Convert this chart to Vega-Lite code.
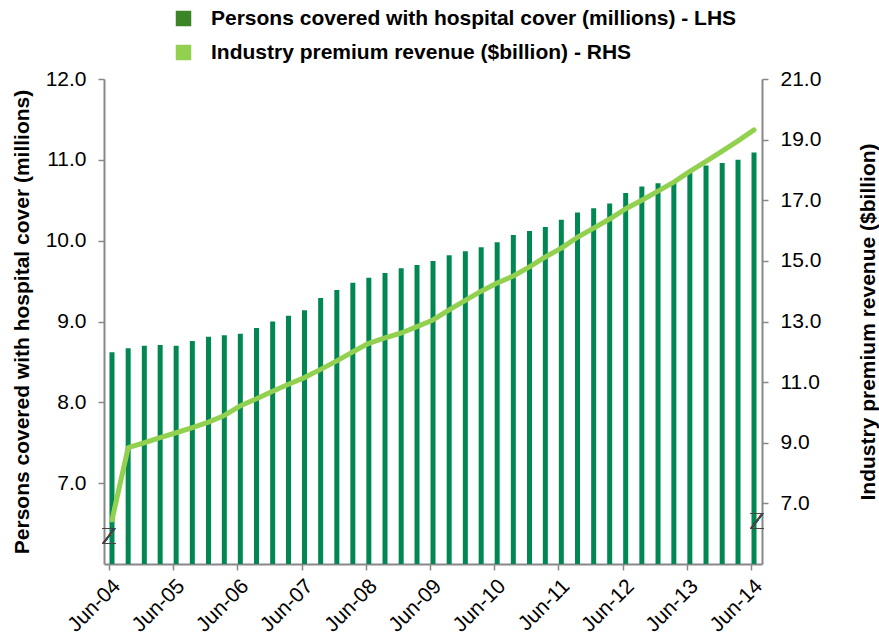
{
  "$schema": "https://vega.github.io/schema/vega-lite/v6.json",
  "autosize": {"type": "none"},
  "padding": {"left": 104, "top": 79, "right": 117, "bottom": 73},
  "width": 658,
  "height": 485,
  "background": "#ffffff",
  "config": {
    "view": {"stroke": null},
    "font": "Liberation Sans"
  },
  "datasets": {
    "quarterly": [
      {"quarter": "2004-06-30", "persons": 8.62, "revenue": 6.45},
      {"quarter": "2004-09-30", "persons": 8.67, "revenue": 8.84},
      {"quarter": "2004-12-31", "persons": 8.70, "revenue": 9.00},
      {"quarter": "2005-03-31", "persons": 8.71, "revenue": 9.17},
      {"quarter": "2005-06-30", "persons": 8.70, "revenue": 9.33},
      {"quarter": "2005-09-30", "persons": 8.76, "revenue": 9.50},
      {"quarter": "2005-12-31", "persons": 8.81, "revenue": 9.68},
      {"quarter": "2006-03-31", "persons": 8.83, "revenue": 9.90},
      {"quarter": "2006-06-30", "persons": 8.85, "revenue": 10.22},
      {"quarter": "2006-09-30", "persons": 8.92, "revenue": 10.45},
      {"quarter": "2006-12-31", "persons": 9.00, "revenue": 10.70},
      {"quarter": "2007-03-31", "persons": 9.07, "revenue": 10.93},
      {"quarter": "2007-06-30", "persons": 9.14, "revenue": 11.15},
      {"quarter": "2007-09-30", "persons": 9.29, "revenue": 11.42},
      {"quarter": "2007-12-31", "persons": 9.39, "revenue": 11.70},
      {"quarter": "2008-03-31", "persons": 9.48, "revenue": 12.00},
      {"quarter": "2008-06-30", "persons": 9.54, "revenue": 12.28},
      {"quarter": "2008-09-30", "persons": 9.60, "revenue": 12.46},
      {"quarter": "2008-12-31", "persons": 9.66, "revenue": 12.62},
      {"quarter": "2009-03-31", "persons": 9.70, "revenue": 12.83},
      {"quarter": "2009-06-30", "persons": 9.75, "revenue": 13.05},
      {"quarter": "2009-09-30", "persons": 9.82, "revenue": 13.38},
      {"quarter": "2009-12-31", "persons": 9.87, "revenue": 13.70},
      {"quarter": "2010-03-31", "persons": 9.92, "revenue": 14.00},
      {"quarter": "2010-06-30", "persons": 9.98, "revenue": 14.27},
      {"quarter": "2010-09-30", "persons": 10.07, "revenue": 14.50},
      {"quarter": "2010-12-31", "persons": 10.12, "revenue": 14.80},
      {"quarter": "2011-03-31", "persons": 10.17, "revenue": 15.13},
      {"quarter": "2011-06-30", "persons": 10.26, "revenue": 15.42},
      {"quarter": "2011-09-30", "persons": 10.35, "revenue": 15.78},
      {"quarter": "2011-12-31", "persons": 10.40, "revenue": 16.08},
      {"quarter": "2012-03-31", "persons": 10.46, "revenue": 16.38},
      {"quarter": "2012-06-30", "persons": 10.59, "revenue": 16.72},
      {"quarter": "2012-09-30", "persons": 10.67, "revenue": 17.00},
      {"quarter": "2012-12-31", "persons": 10.71, "revenue": 17.30},
      {"quarter": "2013-03-31", "persons": 10.73, "revenue": 17.60},
      {"quarter": "2013-06-30", "persons": 10.84, "revenue": 17.95},
      {"quarter": "2013-09-30", "persons": 10.93, "revenue": 18.28},
      {"quarter": "2013-12-31", "persons": 10.96, "revenue": 18.62},
      {"quarter": "2014-03-31", "persons": 11.00, "revenue": 18.96},
      {"quarter": "2014-06-30", "persons": 11.09, "revenue": 19.32}
    ],
    "series": [
      {"series": "Persons covered with hospital cover (millions) - LHS"},
      {"series": "Industry premium revenue ($billion) - RHS"}
    ]
  },
  "encoding": {
    "x": {
      "field": "quarter",
      "type": "temporal",
      "scale": {
        "type": "utc",
        "domain": [
          {"year": 2004, "month": 6, "date": 13, "utc": true},
          {"year": 2014, "month": 7, "date": 17, "utc": true}
        ]
      },
      "axis": {
        "title": null,
        "grid": false,
        "values": [
          {"year": 2004, "month": 6, "date": 13, "utc": true},
          {"year": 2005, "month": 6, "date": 13, "utc": true},
          {"year": 2006, "month": 6, "date": 13, "utc": true},
          {"year": 2007, "month": 6, "date": 13, "utc": true},
          {"year": 2008, "month": 6, "date": 13, "utc": true},
          {"year": 2009, "month": 6, "date": 13, "utc": true},
          {"year": 2010, "month": 6, "date": 13, "utc": true},
          {"year": 2011, "month": 6, "date": 13, "utc": true},
          {"year": 2012, "month": 6, "date": 13, "utc": true},
          {"year": 2013, "month": 6, "date": 13, "utc": true},
          {"year": 2014, "month": 6, "date": 13, "utc": true}
        ],
        "format": "%b-%y",
        "labelAngle": -45,
        "labelFont": "Liberation Sans",
        "labelFontSize": 21,
        "labelColor": "#000000",
        "labelPadding": 5,
        "labelOverlap": false,
        "labelFlush": false,
        "tickSize": 6,
        "tickColor": "#888888",
        "tickWidth": 1.5,
        "domainColor": "#888888",
        "domainWidth": 2
      }
    }
  },
  "layer": [
    {
      "data": {"name": "quarterly"},
      "layer": [
        {
          "mark": {"type": "bar", "width": 5, "color": "#008752"},
          "encoding": {
            "y": {
              "field": "persons",
              "type": "quantitative",
              "scale": {"domain": [6, 12], "zero": false, "nice": false},
              "axis": {
                "orient": "left",
                "values": [7, 8, 9, 10, 11, 12],
                "format": ".1f",
                "grid": false,
                "title": "Persons covered with hospital cover (millions)",
                "titleFont": "Liberation Sans",
                "titleFontSize": 21,
                "titleFontWeight": "bold",
                "titleColor": "#000000",
                "titleAngle": 270,
                "titleAlign": "center",
                "titleBaseline": "middle",
                "titleX": -82,
                "titleY": 242.5,
                "labelFont": "Liberation Sans",
                "labelFontSize": 21,
                "labelColor": "#000000",
                "labelPadding": 12,
                "tickSize": 6,
                "tickColor": "#888888",
                "tickWidth": 1.5,
                "domainColor": "#888888",
                "domainWidth": 2
              }
            },
            "y2": {"datum": 6}
          }
        },
        {
          "mark": {"type": "text", "text": "Z", "font": "DejaVu Sans", "fontSize": 21, "fontWeight": 200, "color": "#444444"},
          "encoding": {
            "x": {"datum": {"year": 2004, "month": 6, "date": 13, "utc": true}, "type": "temporal"},
            "y": {"datum": 6.32, "type": "quantitative"}
          }
        }
      ]
    },
    {
      "data": {"name": "quarterly"},
      "layer": [
        {
          "mark": {"type": "line", "color": "#92D050", "strokeWidth": 5, "strokeJoin": "round", "strokeCap": "round"},
          "encoding": {
            "y": {
              "field": "revenue",
              "type": "quantitative",
              "scale": {"domain": [5, 21], "zero": false, "nice": false},
              "axis": {
                "orient": "right",
                "values": [7, 9, 11, 13, 15, 17, 19, 21],
                "format": ".1f",
                "grid": false,
                "title": "Industry premium revenue ($billion)",
                "titleFont": "Liberation Sans",
                "titleFontSize": 21,
                "titleFontWeight": "bold",
                "titleColor": "#000000",
                "titleAngle": 270,
                "titleAlign": "center",
                "titleBaseline": "middle",
                "titleX": 106,
                "titleY": 242.5,
                "labelFont": "Liberation Sans",
                "labelFontSize": 21,
                "labelColor": "#000000",
                "labelPadding": 12,
                "tickSize": 6,
                "tickColor": "#888888",
                "tickWidth": 1.5,
                "domainColor": "#888888",
                "domainWidth": 2
              }
            }
          }
        },
        {
          "mark": {"type": "text", "text": "Z", "font": "DejaVu Sans", "fontSize": 21, "fontWeight": 200, "color": "#444444"},
          "encoding": {
            "x": {"datum": {"year": 2014, "month": 7, "date": 17, "utc": true}, "type": "temporal"},
            "y": {"datum": 6.35, "type": "quantitative"}
          }
        }
      ]
    },
    {
      "data": {"name": "series"},
      "mark": {"type": "square", "opacity": 0},
      "encoding": {
        "color": {
          "field": "series",
          "type": "nominal",
          "sort": null,
          "scale": {
            "domain": [
              "Persons covered with hospital cover (millions) - LHS",
              "Industry premium revenue ($billion) - RHS"
            ],
            "range": ["#3A8526", "#92D050"]
          },
          "legend": {
            "title": null,
            "orient": "none",
            "legendX": 69,
            "legendY": -71,
            "direction": "vertical",
            "padding": 0,
            "symbolType": "square",
            "symbolSize": 240,
            "symbolOpacity": 1,
            "symbolStrokeWidth": 0,
            "labelFont": "Liberation Sans",
            "labelFontSize": 21,
            "labelFontWeight": "bold",
            "labelColor": "#000000",
            "labelOffset": 17,
            "labelLimit": 0,
            "rowPadding": 12
          }
        }
      }
    }
  ],
  "resolve": {"scale": {"y": "independent"}}
}
